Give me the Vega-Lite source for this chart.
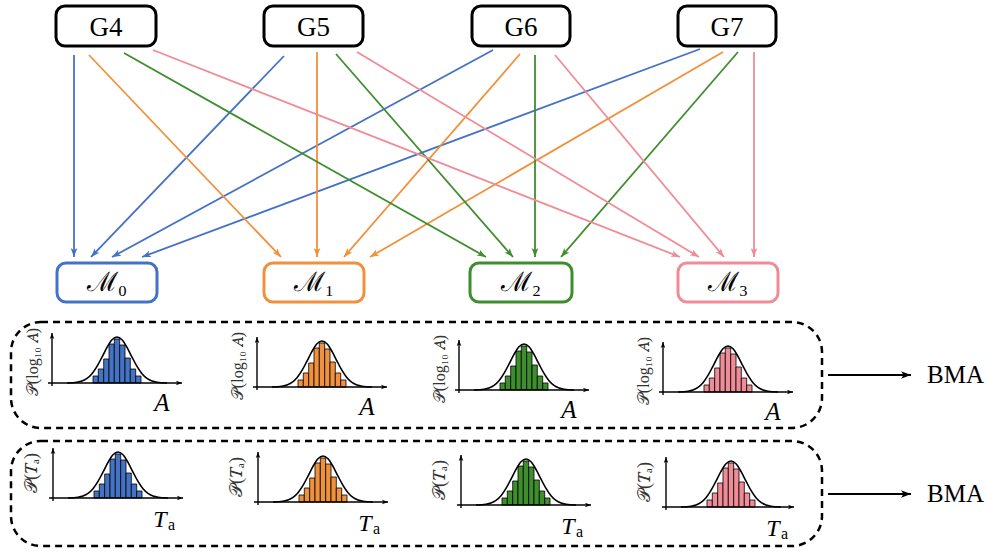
{
"$schema":"https://vega.github.io/schema/vega-lite/v6.json",
"width":987,"height":551,
"autosize":{"type":"fit","contains":"padding"},
"padding":0,
"background":"white",
"config":{"view":{"stroke":null}},
"datasets":{
"arrows":[
{"k":"b","x1":74,"y1":55,"x2":74,"y2":257},
{"k":"b","x1":284,"y1":56,"x2":91,"y2":257},
{"k":"b","x1":493,"y1":50,"x2":112,"y2":257},
{"k":"b","x1":700,"y1":49,"x2":142,"y2":257},
{"k":"o","x1":89,"y1":55,"x2":281,"y2":257},
{"k":"o","x1":317,"y1":52,"x2":317,"y2":257},
{"k":"o","x1":520,"y1":54,"x2":344,"y2":257},
{"k":"o","x1":723,"y1":52,"x2":370,"y2":257},
{"k":"g","x1":124,"y1":53,"x2":486,"y2":257},
{"k":"g","x1":336,"y1":54,"x2":513,"y2":257},
{"k":"g","x1":535,"y1":55,"x2":535,"y2":257},
{"k":"g","x1":738,"y1":52,"x2":561,"y2":257},
{"k":"p","x1":153,"y1":50,"x2":680,"y2":257},
{"k":"p","x1":357,"y1":52,"x2":699,"y2":257},
{"k":"p","x1":555,"y1":55,"x2":724,"y2":257},
{"k":"p","x1":754,"y1":52,"x2":754,"y2":257}
],
"gboxes":[
{"t":"G4","x1":56,"x2":156,"y1":6,"y2":46,"cx":106,"ty":36},
{"t":"G5","x1":264,"x2":363,"y1":6,"y2":46,"cx":313.5,"ty":36},
{"t":"G6","x1":472,"x2":570,"y1":6,"y2":46,"cx":521,"ty":36},
{"t":"G7","x1":678,"x2":776,"y1":6,"y2":46,"cx":727,"ty":36}
],
"mboxes":[
{"k":"b","t":"ℳ₀","x1":57,"x2":157,"y1":263,"y2":302,"cx":107,"ty":291},
{"k":"o","t":"ℳ₁","x1":264,"x2":364,"y1":263,"y2":302,"cx":314,"ty":291},
{"k":"g","t":"ℳ₂","x1":470,"x2":572,"y1":263,"y2":302,"cx":521,"ty":291},
{"k":"p","t":"ℳ₃","x1":678,"x2":778,"y1":263,"y2":302,"cx":728,"ty":291}
],
"dashed":[
{"x1":11,"x2":822,"y1":322,"y2":428},
{"x1":11,"x2":822,"y1":441,"y2":546}
],
"axes":[
{"x1":52,"y1":386,"x2":52,"y2":333},{"x1":48,"y1":383,"x2":182,"y2":383},
{"x1":257,"y1":390,"x2":257,"y2":337},{"x1":253,"y1":387,"x2":387,"y2":387},
{"x1":459,"y1":393,"x2":459,"y2":340},{"x1":455,"y1":390,"x2":589,"y2":390},
{"x1":663,"y1":395,"x2":663,"y2":342},{"x1":659,"y1":392,"x2":793,"y2":392},
{"x1":53,"y1":501,"x2":53,"y2":448},{"x1":49,"y1":498,"x2":183,"y2":498},
{"x1":258,"y1":505,"x2":258,"y2":452},{"x1":254,"y1":502,"x2":388,"y2":502},
{"x1":461,"y1":508,"x2":461,"y2":455},{"x1":457,"y1":505,"x2":591,"y2":505},
{"x1":666,"y1":510,"x2":666,"y2":457},{"x1":662,"y1":507,"x2":794,"y2":507}
],
"bma":[
{"x1":828,"y1":375,"x2":911,"y2":375,"t":"BMA","tx":927},
{"x1":828,"y1":494,"x2":911,"y2":494,"t":"BMA","tx":927}
],
"bars":[
{"k":"b","x1":93,"x2":98.3,"y1":376,"y2":383},{"k":"b","x1":98.3,"x2":103.7,"y1":369,"y2":383},{"k":"b","x1":103.7,"x2":109,"y1":359,"y2":383},{"k":"b","x1":109,"x2":114.3,"y1":344,"y2":383},{"k":"b","x1":114.3,"x2":119.7,"y1":339,"y2":383},{"k":"b","x1":119.7,"x2":125,"y1":345,"y2":383},{"k":"b","x1":125,"x2":130.3,"y1":358,"y2":383},{"k":"b","x1":130.3,"x2":135.7,"y1":369,"y2":383},{"k":"b","x1":135.7,"x2":141,"y1":376,"y2":383},
{"k":"o","x1":298,"x2":303.3,"y1":380,"y2":387},{"k":"o","x1":303.3,"x2":308.7,"y1":373,"y2":387},{"k":"o","x1":308.7,"x2":314,"y1":363,"y2":387},{"k":"o","x1":314,"x2":319.3,"y1":348,"y2":387},{"k":"o","x1":319.3,"x2":324.7,"y1":343,"y2":387},{"k":"o","x1":324.7,"x2":330,"y1":349,"y2":387},{"k":"o","x1":330,"x2":335.3,"y1":362,"y2":387},{"k":"o","x1":335.3,"x2":340.7,"y1":373,"y2":387},{"k":"o","x1":340.7,"x2":346,"y1":380,"y2":387},
{"k":"g","x1":500,"x2":505.3,"y1":383,"y2":390},{"k":"g","x1":505.3,"x2":510.7,"y1":376,"y2":390},{"k":"g","x1":510.7,"x2":516,"y1":366,"y2":390},{"k":"g","x1":516,"x2":521.3,"y1":351,"y2":390},{"k":"g","x1":521.3,"x2":526.7,"y1":346,"y2":390},{"k":"g","x1":526.7,"x2":532,"y1":352,"y2":390},{"k":"g","x1":532,"x2":537.3,"y1":365,"y2":390},{"k":"g","x1":537.3,"x2":542.7,"y1":376,"y2":390},{"k":"g","x1":542.7,"x2":548,"y1":383,"y2":390},
{"k":"p","x1":704,"x2":709.3,"y1":385,"y2":392},{"k":"p","x1":709.3,"x2":714.7,"y1":378,"y2":392},{"k":"p","x1":714.7,"x2":720,"y1":368,"y2":392},{"k":"p","x1":720,"x2":725.3,"y1":353,"y2":392},{"k":"p","x1":725.3,"x2":730.7,"y1":348,"y2":392},{"k":"p","x1":730.7,"x2":736,"y1":354,"y2":392},{"k":"p","x1":736,"x2":741.3,"y1":367,"y2":392},{"k":"p","x1":741.3,"x2":746.7,"y1":378,"y2":392},{"k":"p","x1":746.7,"x2":752,"y1":385,"y2":392},
{"k":"b","x1":94,"x2":99.3,"y1":491,"y2":498},{"k":"b","x1":99.3,"x2":104.7,"y1":484,"y2":498},{"k":"b","x1":104.7,"x2":110,"y1":474,"y2":498},{"k":"b","x1":110,"x2":115.3,"y1":459,"y2":498},{"k":"b","x1":115.3,"x2":120.7,"y1":454,"y2":498},{"k":"b","x1":120.7,"x2":126,"y1":460,"y2":498},{"k":"b","x1":126,"x2":131.3,"y1":473,"y2":498},{"k":"b","x1":131.3,"x2":136.7,"y1":484,"y2":498},{"k":"b","x1":136.7,"x2":142,"y1":491,"y2":498},
{"k":"o","x1":299,"x2":304.3,"y1":495,"y2":502},{"k":"o","x1":304.3,"x2":309.7,"y1":488,"y2":502},{"k":"o","x1":309.7,"x2":315,"y1":478,"y2":502},{"k":"o","x1":315,"x2":320.3,"y1":463,"y2":502},{"k":"o","x1":320.3,"x2":325.7,"y1":458,"y2":502},{"k":"o","x1":325.7,"x2":331,"y1":464,"y2":502},{"k":"o","x1":331,"x2":336.3,"y1":477,"y2":502},{"k":"o","x1":336.3,"x2":341.7,"y1":488,"y2":502},{"k":"o","x1":341.7,"x2":347,"y1":495,"y2":502},
{"k":"g","x1":502,"x2":507.3,"y1":498,"y2":505},{"k":"g","x1":507.3,"x2":512.7,"y1":491,"y2":505},{"k":"g","x1":512.7,"x2":518,"y1":481,"y2":505},{"k":"g","x1":518,"x2":523.3,"y1":466,"y2":505},{"k":"g","x1":523.3,"x2":528.7,"y1":461,"y2":505},{"k":"g","x1":528.7,"x2":534,"y1":467,"y2":505},{"k":"g","x1":534,"x2":539.3,"y1":480,"y2":505},{"k":"g","x1":539.3,"x2":544.7,"y1":491,"y2":505},{"k":"g","x1":544.7,"x2":550,"y1":498,"y2":505},
{"k":"p","x1":707,"x2":712.3,"y1":500,"y2":507},{"k":"p","x1":712.3,"x2":717.7,"y1":493,"y2":507},{"k":"p","x1":717.7,"x2":723,"y1":483,"y2":507},{"k":"p","x1":723,"x2":728.3,"y1":468,"y2":507},{"k":"p","x1":728.3,"x2":733.7,"y1":463,"y2":507},{"k":"p","x1":733.7,"x2":739,"y1":469,"y2":507},{"k":"p","x1":739,"x2":744.3,"y1":482,"y2":507},{"k":"p","x1":744.3,"x2":749.7,"y1":493,"y2":507},{"k":"p","x1":749.7,"x2":755,"y1":500,"y2":507}
],
"curves":[
{"c":"P1","x":67,"y":383},{"c":"P1","x":77,"y":382.2},{"c":"P1","x":82,"y":381},{"c":"P1","x":87,"y":378.4},{"c":"P1","x":92,"y":373.7},{"c":"P1","x":97,"y":366.4},{"c":"P1","x":102,"y":357.1},{"c":"P1","x":107,"y":347.4},{"c":"P1","x":112,"y":339.8},{"c":"P1","x":117,"y":337},{"c":"P1","x":122,"y":339.8},{"c":"P1","x":127,"y":347.4},{"c":"P1","x":132,"y":357.1},{"c":"P1","x":137,"y":366.4},{"c":"P1","x":142,"y":373.7},{"c":"P1","x":147,"y":378.4},{"c":"P1","x":152,"y":381},{"c":"P1","x":157,"y":382.2},{"c":"P1","x":167,"y":383},
{"c":"P2","x":272,"y":387},{"c":"P2","x":282,"y":386.2},{"c":"P2","x":287,"y":385},{"c":"P2","x":292,"y":382.4},{"c":"P2","x":297,"y":377.7},{"c":"P2","x":302,"y":370.4},{"c":"P2","x":307,"y":361.1},{"c":"P2","x":312,"y":351.4},{"c":"P2","x":317,"y":343.8},{"c":"P2","x":322,"y":341},{"c":"P2","x":327,"y":343.8},{"c":"P2","x":332,"y":351.4},{"c":"P2","x":337,"y":361.1},{"c":"P2","x":342,"y":370.4},{"c":"P2","x":347,"y":377.7},{"c":"P2","x":352,"y":382.4},{"c":"P2","x":357,"y":385},{"c":"P2","x":362,"y":386.2},{"c":"P2","x":372,"y":387},
{"c":"P3","x":474,"y":390},{"c":"P3","x":484,"y":389.2},{"c":"P3","x":489,"y":388},{"c":"P3","x":494,"y":385.4},{"c":"P3","x":499,"y":380.7},{"c":"P3","x":504,"y":373.4},{"c":"P3","x":509,"y":364.1},{"c":"P3","x":514,"y":354.4},{"c":"P3","x":519,"y":346.8},{"c":"P3","x":524,"y":344},{"c":"P3","x":529,"y":346.8},{"c":"P3","x":534,"y":354.4},{"c":"P3","x":539,"y":364.1},{"c":"P3","x":544,"y":373.4},{"c":"P3","x":549,"y":380.7},{"c":"P3","x":554,"y":385.4},{"c":"P3","x":559,"y":388},{"c":"P3","x":564,"y":389.2},{"c":"P3","x":574,"y":390},
{"c":"P4","x":678,"y":392},{"c":"P4","x":688,"y":391.2},{"c":"P4","x":693,"y":390},{"c":"P4","x":698,"y":387.4},{"c":"P4","x":703,"y":382.7},{"c":"P4","x":708,"y":375.4},{"c":"P4","x":713,"y":366.1},{"c":"P4","x":718,"y":356.4},{"c":"P4","x":723,"y":348.8},{"c":"P4","x":728,"y":346},{"c":"P4","x":733,"y":348.8},{"c":"P4","x":738,"y":356.4},{"c":"P4","x":743,"y":366.1},{"c":"P4","x":748,"y":375.4},{"c":"P4","x":753,"y":382.7},{"c":"P4","x":758,"y":387.4},{"c":"P4","x":763,"y":390},{"c":"P4","x":768,"y":391.2},{"c":"P4","x":778,"y":392},
{"c":"Q1","x":68,"y":498},{"c":"Q1","x":78,"y":497.2},{"c":"Q1","x":83,"y":496},{"c":"Q1","x":88,"y":493.4},{"c":"Q1","x":93,"y":488.7},{"c":"Q1","x":98,"y":481.4},{"c":"Q1","x":103,"y":472.1},{"c":"Q1","x":108,"y":462.4},{"c":"Q1","x":113,"y":454.8},{"c":"Q1","x":118,"y":452},{"c":"Q1","x":123,"y":454.8},{"c":"Q1","x":128,"y":462.4},{"c":"Q1","x":133,"y":472.1},{"c":"Q1","x":138,"y":481.4},{"c":"Q1","x":143,"y":488.7},{"c":"Q1","x":148,"y":493.4},{"c":"Q1","x":153,"y":496},{"c":"Q1","x":158,"y":497.2},{"c":"Q1","x":168,"y":498},
{"c":"Q2","x":273,"y":502},{"c":"Q2","x":283,"y":501.2},{"c":"Q2","x":288,"y":500},{"c":"Q2","x":293,"y":497.4},{"c":"Q2","x":298,"y":492.7},{"c":"Q2","x":303,"y":485.4},{"c":"Q2","x":308,"y":476.1},{"c":"Q2","x":313,"y":466.4},{"c":"Q2","x":318,"y":458.8},{"c":"Q2","x":323,"y":456},{"c":"Q2","x":328,"y":458.8},{"c":"Q2","x":333,"y":466.4},{"c":"Q2","x":338,"y":476.1},{"c":"Q2","x":343,"y":485.4},{"c":"Q2","x":348,"y":492.7},{"c":"Q2","x":353,"y":497.4},{"c":"Q2","x":358,"y":500},{"c":"Q2","x":363,"y":501.2},{"c":"Q2","x":373,"y":502},
{"c":"Q3","x":476,"y":505},{"c":"Q3","x":486,"y":504.2},{"c":"Q3","x":491,"y":503},{"c":"Q3","x":496,"y":500.4},{"c":"Q3","x":501,"y":495.7},{"c":"Q3","x":506,"y":488.4},{"c":"Q3","x":511,"y":479.1},{"c":"Q3","x":516,"y":469.4},{"c":"Q3","x":521,"y":461.8},{"c":"Q3","x":526,"y":459},{"c":"Q3","x":531,"y":461.8},{"c":"Q3","x":536,"y":469.4},{"c":"Q3","x":541,"y":479.1},{"c":"Q3","x":546,"y":488.4},{"c":"Q3","x":551,"y":495.7},{"c":"Q3","x":556,"y":500.4},{"c":"Q3","x":561,"y":503},{"c":"Q3","x":566,"y":504.2},{"c":"Q3","x":576,"y":505},
{"c":"Q4","x":681,"y":507},{"c":"Q4","x":691,"y":506.2},{"c":"Q4","x":696,"y":505},{"c":"Q4","x":701,"y":502.4},{"c":"Q4","x":706,"y":497.7},{"c":"Q4","x":711,"y":490.4},{"c":"Q4","x":716,"y":481.1},{"c":"Q4","x":721,"y":471.4},{"c":"Q4","x":726,"y":463.8},{"c":"Q4","x":731,"y":461},{"c":"Q4","x":736,"y":463.8},{"c":"Q4","x":741,"y":471.4},{"c":"Q4","x":746,"y":481.1},{"c":"Q4","x":751,"y":490.4},{"c":"Q4","x":756,"y":497.7},{"c":"Q4","x":761,"y":502.4},{"c":"Q4","x":766,"y":505},{"c":"Q4","x":771,"y":506.2},{"c":"Q4","x":781,"y":507}
],
"alabels":[
{"t":"A","x":162,"y":411},{"t":"A","x":367,"y":415},{"t":"A","x":569,"y":418},{"t":"A","x":773,"y":420}
],
"tlabels":[
{"t":"T","x":160,"y":527,"sx":168,"sy":530},{"t":"T","x":365,"y":531,"sx":373,"sy":534},{"t":"T","x":568,"y":534,"sx":576,"sy":537},{"t":"T","x":773,"y":536,"sx":781,"sy":539}
],
"ylabels":[
{"t":"𝒫(log₁₀ 𝐴)","x":33,"y":362},{"t":"𝒫(log₁₀ 𝐴)","x":238,"y":366},{"t":"𝒫(log₁₀ 𝐴)","x":440,"y":369},{"t":"𝒫(log₁₀ 𝐴)","x":644,"y":371}
],
"ylabels2":[
{"t":"𝒫(𝑇ₐ)","x":32,"y":473},{"t":"𝒫(𝑇ₐ)","x":237,"y":477},{"t":"𝒫(𝑇ₐ)","x":440,"y":480},{"t":"𝒫(𝑇ₐ)","x":645,"y":482}
]
},
"layer":[
{"data":{"name":"arrows"},
 "mark":{"type":"rule","strokeWidth":1.8},
 "encoding":{
  "x":{"field":"x1","type":"quantitative","scale":{"domain":[0,987],"nice":false,"zero":false},"axis":null},
  "y":{"field":"y1","type":"quantitative","scale":{"domain":[0,551],"nice":false,"zero":false,"reverse":true},"axis":null},
  "x2":{"field":"x2"},"y2":{"field":"y2"},
  "color":{"field":"k","type":"nominal","scale":{"domain":["b","o","g","p"],"range":["#4472C4","#F0913D","#3E8E2E","#F08C97"]},"legend":null}
 }},
{"data":{"name":"arrows"},
 "transform":[{"calculate":"atan2(datum.x2-datum.x1, datum.y1-datum.y2)*180/PI","as":"ang"}],
 "mark":{"type":"point","shape":"M0,0L0.75,2L0,1.5L-0.75,2Z","filled":true,"opacity":1,"size":80,"strokeWidth":0},
 "encoding":{
  "x":{"field":"x2","type":"quantitative","scale":{"domain":[0,987],"nice":false,"zero":false},"axis":null},
  "y":{"field":"y2","type":"quantitative","scale":{"domain":[0,551],"nice":false,"zero":false,"reverse":true},"axis":null},
  "angle":{"field":"ang","type":"quantitative","scale":null},
  "color":{"field":"k","type":"nominal","scale":{"domain":["b","o","g","p"],"range":["#4472C4","#F0913D","#3E8E2E","#F08C97"]},"legend":null}
 }},
{"data":{"name":"gboxes"},
 "mark":{"type":"rect","fill":"white","stroke":"black","strokeWidth":3,"cornerRadius":9},
 "encoding":{
  "x":{"field":"x1","type":"quantitative","scale":{"domain":[0,987],"nice":false,"zero":false},"axis":null},
  "x2":{"field":"x2"},
  "y":{"field":"y1","type":"quantitative","scale":{"domain":[0,551],"nice":false,"zero":false,"reverse":true},"axis":null},
  "y2":{"field":"y2"}
 }},
{"data":{"name":"gboxes"},
 "mark":{"type":"text","font":"Liberation Serif","fontSize":27,"align":"center","baseline":"alphabetic","color":"black"},
 "encoding":{
  "x":{"field":"cx","type":"quantitative","scale":{"domain":[0,987],"nice":false,"zero":false},"axis":null},
  "y":{"field":"ty","type":"quantitative","scale":{"domain":[0,551],"nice":false,"zero":false,"reverse":true},"axis":null},
  "text":{"field":"t"}
 }},
{"data":{"name":"mboxes"},
 "mark":{"type":"rect","fill":"white","strokeWidth":3,"cornerRadius":9},
 "encoding":{
  "x":{"field":"x1","type":"quantitative","scale":{"domain":[0,987],"nice":false,"zero":false},"axis":null},
  "x2":{"field":"x2"},
  "y":{"field":"y1","type":"quantitative","scale":{"domain":[0,551],"nice":false,"zero":false,"reverse":true},"axis":null},
  "y2":{"field":"y2"},
  "stroke":{"field":"k","type":"nominal","scale":{"domain":["b","o","g","p"],"range":["#4472C4","#F0913D","#3E8E2E","#F08C97"]},"legend":null}
 }},
{"data":{"name":"mboxes"},
 "mark":{"type":"text","font":"Liberation Serif","fontSize":27,"align":"center","baseline":"alphabetic","color":"black"},
 "encoding":{
  "x":{"field":"cx","type":"quantitative","scale":{"domain":[0,987],"nice":false,"zero":false},"axis":null},
  "y":{"field":"ty","type":"quantitative","scale":{"domain":[0,551],"nice":false,"zero":false,"reverse":true},"axis":null},
  "text":{"field":"t"}
 }},
{"data":{"name":"dashed"},
 "mark":{"type":"rect","filled":false,"fill":null,"stroke":"black","strokeWidth":2.5,"strokeDash":[7,5],"cornerRadius":30},
 "encoding":{
  "x":{"field":"x1","type":"quantitative","scale":{"domain":[0,987],"nice":false,"zero":false},"axis":null},
  "x2":{"field":"x2"},
  "y":{"field":"y1","type":"quantitative","scale":{"domain":[0,551],"nice":false,"zero":false,"reverse":true},"axis":null},
  "y2":{"field":"y2"}
 }},
{"data":{"name":"bars"},
 "mark":{"type":"rect","stroke":"black","strokeWidth":0.8},
 "encoding":{
  "x":{"field":"x1","type":"quantitative","scale":{"domain":[0,987],"nice":false,"zero":false},"axis":null},
  "x2":{"field":"x2"},
  "y":{"field":"y1","type":"quantitative","scale":{"domain":[0,551],"nice":false,"zero":false,"reverse":true},"axis":null},
  "y2":{"field":"y2"},
  "fill":{"field":"k","type":"nominal","scale":{"domain":["b","o","g","p"],"range":["#4472C4","#F0913D","#3E8E2E","#F08C97"]},"legend":null}
 }},
{"data":{"name":"curves"},
 "mark":{"type":"line","color":"black","strokeWidth":1.6,"interpolate":"monotone"},
 "encoding":{
  "x":{"field":"x","type":"quantitative","scale":{"domain":[0,987],"nice":false,"zero":false},"axis":null},
  "y":{"field":"y","type":"quantitative","scale":{"domain":[0,551],"nice":false,"zero":false,"reverse":true},"axis":null},
  "detail":{"field":"c","type":"nominal"}
 }},
{"data":{"name":"axes"},
 "mark":{"type":"rule","color":"black","strokeWidth":1.4},
 "encoding":{
  "x":{"field":"x1","type":"quantitative","scale":{"domain":[0,987],"nice":false,"zero":false},"axis":null},
  "y":{"field":"y1","type":"quantitative","scale":{"domain":[0,551],"nice":false,"zero":false,"reverse":true},"axis":null},
  "x2":{"field":"x2"},"y2":{"field":"y2"}
 }},
{"data":{"name":"axes"},
 "transform":[{"calculate":"atan2(datum.x2-datum.x1, datum.y1-datum.y2)*180/PI","as":"ang"}],
 "mark":{"type":"point","shape":"M0,0L0.75,2L0,1.5L-0.75,2Z","filled":true,"opacity":1,"size":36,"color":"black","strokeWidth":0},
 "encoding":{
  "x":{"field":"x2","type":"quantitative","scale":{"domain":[0,987],"nice":false,"zero":false},"axis":null},
  "y":{"field":"y2","type":"quantitative","scale":{"domain":[0,551],"nice":false,"zero":false,"reverse":true},"axis":null},
  "angle":{"field":"ang","type":"quantitative","scale":null}
 }},
{"data":{"name":"bma"},
 "mark":{"type":"rule","color":"black","strokeWidth":2},
 "encoding":{
  "x":{"field":"x1","type":"quantitative","scale":{"domain":[0,987],"nice":false,"zero":false},"axis":null},
  "y":{"field":"y1","type":"quantitative","scale":{"domain":[0,551],"nice":false,"zero":false,"reverse":true},"axis":null},
  "x2":{"field":"x2"},"y2":{"field":"y2"}
 }},
{"data":{"name":"bma"},
 "transform":[{"calculate":"atan2(datum.x2-datum.x1, datum.y1-datum.y2)*180/PI","as":"ang"}],
 "mark":{"type":"point","shape":"M0,0L0.75,2L0,1.5L-0.75,2Z","filled":true,"opacity":1,"size":100,"color":"black","strokeWidth":0},
 "encoding":{
  "x":{"field":"x2","type":"quantitative","scale":{"domain":[0,987],"nice":false,"zero":false},"axis":null},
  "y":{"field":"y2","type":"quantitative","scale":{"domain":[0,551],"nice":false,"zero":false,"reverse":true},"axis":null},
  "angle":{"field":"ang","type":"quantitative","scale":null}
 }},
{"data":{"name":"bma"},
 "mark":{"type":"text","font":"Liberation Serif","fontSize":25,"align":"left","baseline":"middle","color":"black"},
 "encoding":{
  "x":{"field":"tx","type":"quantitative","scale":{"domain":[0,987],"nice":false,"zero":false},"axis":null},
  "y":{"field":"y1","type":"quantitative","scale":{"domain":[0,551],"nice":false,"zero":false,"reverse":true},"axis":null},
  "text":{"field":"t"}
 }},
{"data":{"name":"alabels"},
 "mark":{"type":"text","font":"Liberation Serif","fontSize":25,"fontStyle":"italic","align":"center","baseline":"alphabetic","color":"black"},
 "encoding":{
  "x":{"field":"x","type":"quantitative","scale":{"domain":[0,987],"nice":false,"zero":false},"axis":null},
  "y":{"field":"y","type":"quantitative","scale":{"domain":[0,551],"nice":false,"zero":false,"reverse":true},"axis":null},
  "text":{"field":"t"}
 }},
{"data":{"name":"tlabels"},
 "mark":{"type":"text","font":"Liberation Serif","fontSize":24,"fontStyle":"italic","align":"center","baseline":"alphabetic","color":"black"},
 "encoding":{
  "x":{"field":"x","type":"quantitative","scale":{"domain":[0,987],"nice":false,"zero":false},"axis":null},
  "y":{"field":"y","type":"quantitative","scale":{"domain":[0,551],"nice":false,"zero":false,"reverse":true},"axis":null},
  "text":{"field":"t"}
 }},
{"data":{"name":"tlabels"},
 "mark":{"type":"text","font":"Liberation Serif","fontSize":16,"align":"left","baseline":"alphabetic","color":"black","text":"a"},
 "encoding":{
  "x":{"field":"sx","type":"quantitative","scale":{"domain":[0,987],"nice":false,"zero":false},"axis":null},
  "y":{"field":"sy","type":"quantitative","scale":{"domain":[0,551],"nice":false,"zero":false,"reverse":true},"axis":null}
 }},
{"data":{"name":"ylabels"},
 "mark":{"type":"text","font":"Liberation Serif","fontSize":16,"align":"center","baseline":"middle","angle":270,"color":"#333333"},
 "encoding":{
  "x":{"field":"x","type":"quantitative","scale":{"domain":[0,987],"nice":false,"zero":false},"axis":null},
  "y":{"field":"y","type":"quantitative","scale":{"domain":[0,551],"nice":false,"zero":false,"reverse":true},"axis":null},
  "text":{"field":"t"}
 }},
{"data":{"name":"ylabels2"},
 "mark":{"type":"text","font":"Liberation Serif","fontSize":18,"align":"center","baseline":"middle","angle":270,"color":"#333333"},
 "encoding":{
  "x":{"field":"x","type":"quantitative","scale":{"domain":[0,987],"nice":false,"zero":false},"axis":null},
  "y":{"field":"y","type":"quantitative","scale":{"domain":[0,551],"nice":false,"zero":false,"reverse":true},"axis":null},
  "text":{"field":"t"}
 }}
]
}
